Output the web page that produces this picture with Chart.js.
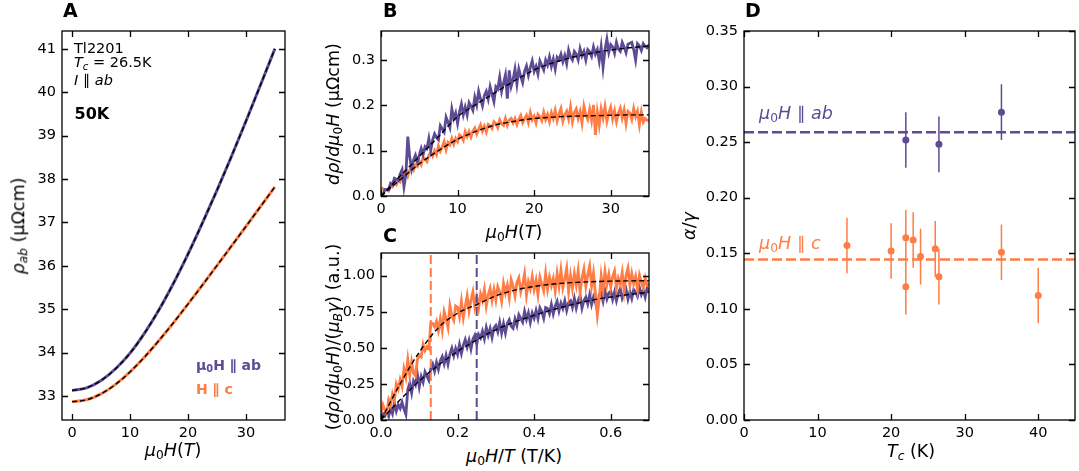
<!DOCTYPE html>
<html>
<head>
<meta charset="utf-8">
<script src="https://cdn.jsdelivr.net/npm/chart.js@4.4.0/dist/chart.umd.min.js"></script>
<style>
  body { margin: 0; width: 1079px; height: 471px; background: #fff; position: relative; overflow: hidden;
         font-family: 'DejaVu Sans', sans-serif; color: #000; }
  canvas { position: absolute; }
  .t { position: absolute; white-space: nowrap; line-height: 1; }
  .c { transform: translate(-50%, -50%); }
  .r { transform: translate(-50%, -50%) rotate(-90deg); }
  .lbl { font-size: 17.5px; }
  .pl { font-size: 19px; font-weight: bold; }
  sub { font-size: 70%; vertical-align: -0.25em; line-height: 0; }
  .pu { color: #5e4b95; }
  .or { color: #ff7d45; }
</style>
</head>
<body>
<canvas id="pA" width="281" height="433" style="left:12px;top:11px"></canvas>
<canvas id="pB" width="326" height="209" style="left:331px;top:11px"></canvas>
<canvas id="pC" width="326" height="211" style="left:331px;top:233px"></canvas>
<canvas id="pD" width="385" height="433" style="left:694px;top:11px"></canvas>

<!-- panel letters -->
<div class="t pl" style="left:63px;top:1px">A</div>
<div class="t pl" style="left:383px;top:1px">B</div>
<div class="t pl" style="left:383px;top:226px">C</div>
<div class="t pl" style="left:745px;top:1px">D</div>

<!-- panel A text -->
<div class="t" style="left:74px;top:40.5px;font-size:14.5px">Tl2201</div>
<div class="t" style="left:74px;top:55px;font-size:14.5px"><i>T</i><sub><i>c</i></sub> = 26.5K</div>
<div class="t" style="left:74px;top:73px;font-size:14.5px"><i>I</i> ∥ <i>ab</i></div>
<div class="t" style="left:74.5px;top:105.5px;font-size:16px;font-weight:bold">50K</div>
<div class="t pu" style="left:196px;top:357.5px;font-size:14px;font-weight:bold">μ<sub>0</sub>H ∥ ab</div>
<div class="t or" style="left:196px;top:381.5px;font-size:14px;font-weight:bold">H ∥ c</div>

<!-- panel D text -->
<div class="t pu" style="left:759px;top:105px;font-size:17.5px"><i>μ</i><sub>0</sub><i>H</i> ∥ <i>ab</i></div>
<div class="t or" style="left:759px;top:235px;font-size:17.5px"><i>μ</i><sub>0</sub><i>H</i> ∥ <i>c</i></div>

<!-- axis titles -->
<div class="t lbl c" style="left:173px;top:451px"><i>μ</i><sub>0</sub><i>H</i>(<i>T</i>)</div>
<div class="t lbl r" style="left:19px;top:226px"><i>ρ</i><sub><i>ab</i></sub> (μΩcm)</div>
<div class="t lbl c" style="left:514px;top:233px"><i>μ</i><sub>0</sub><i>H</i>(<i>T</i>)</div>
<div class="t lbl r" style="left:334px;top:114px"><i>dρ</i>/<i>dμ</i><sub>0</sub><i>H</i> (μΩcm)</div>
<div class="t lbl c" style="left:514px;top:457px"><i>μ</i><sub>0</sub><i>H</i>/<i>T</i> (T/K)</div>
<div class="t lbl r" style="left:334px;top:337px">(<i>dρ</i>/<i>dμ</i><sub>0</sub><i>H</i>)/(<i>μ</i><sub><i>B</i></sub><i>γ</i>) (a.u.)</div>
<div class="t lbl c" style="left:911px;top:452px"><i>T</i><sub><i>c</i></sub> (K)</div>
<div class="t lbl r" style="left:690px;top:226px"><i>α</i>/<i>γ</i></div>

<script>
/* ---------------- data ---------------- */
const PURPLE = '#5e4b95';
const ORANGE = '#ff7d45';

// A: rho_ab vs field, every 2.5 T
const H_A      = [0, 2.5, 5, 7.5, 10, 12.5, 15, 17.5, 20, 22.5, 25, 27.5, 30, 32.5, 35];
const RHO_AB   = [33.13, 33.19, 33.36, 33.63, 33.99, 34.45, 34.99, 35.60, 36.27, 36.99, 37.74, 38.52, 39.33, 40.16, 41.0];
const RHO_C    = [32.87, 32.916, 33.053, 33.271, 33.558, 33.9, 34.283, 34.691, 35.12, 35.559, 36.006, 36.455, 36.907, 37.362, 37.82];

// B: d rho / d mu0H, one reading every 0.25 T from 0 to 35 T
const H_STEP = 0.25;
const DRHO_AB = [
  0.003, 0.002, 0.014, 0.014, 0.014, 0.028, 0.025, 0.039, 0.037, 0.034,
  0.048, 0.058, 0.020, 0.047, 0.131, 0.086, 0.060, 0.079, 0.090, 0.075,
  0.090, 0.105, 0.091, 0.109, 0.105, 0.127, 0.101, 0.124, 0.137, 0.129,
  0.124, 0.155, 0.148, 0.141, 0.174, 0.163, 0.151, 0.192, 0.171, 0.183,
  0.160, 0.186, 0.203, 0.179, 0.196, 0.179, 0.206, 0.198, 0.189, 0.218,
  0.201, 0.231, 0.214, 0.199, 0.222, 0.231, 0.214, 0.241, 0.224, 0.208,
  0.241, 0.236, 0.262, 0.231, 0.249, 0.267, 0.215, 0.277, 0.242, 0.257,
  0.280, 0.247, 0.280, 0.264, 0.250, 0.275, 0.287, 0.266, 0.283, 0.298,
  0.275, 0.286, 0.269, 0.298, 0.288, 0.278, 0.300, 0.289, 0.307, 0.286,
  0.302, 0.280, 0.306, 0.301, 0.313, 0.296, 0.310, 0.292, 0.322, 0.307,
  0.300, 0.319, 0.313, 0.300, 0.325, 0.309, 0.319, 0.300, 0.323, 0.318,
  0.308, 0.329, 0.313, 0.323, 0.298, 0.329, 0.284, 0.322, 0.346, 0.317,
  0.334, 0.329, 0.315, 0.339, 0.324, 0.319, 0.339, 0.329, 0.316, 0.335,
  0.337, 0.339, 0.323, 0.300, 0.336, 0.331, 0.321, 0.336, 0.330, 0.327,
  0.334
];
const DRHO_C = [
  0.018, 0.016, 0.013, 0.013, 0.011, 0.022, 0.020, 0.030, 0.025, 0.035,
  0.031, 0.046, 0.041, 0.055, 0.044, 0.057, 0.064, 0.057, 0.069, 0.065,
  0.077, 0.069, 0.085, 0.082, 0.076, 0.090, 0.097, 0.088, 0.100, 0.091,
  0.110, 0.099, 0.108, 0.120, 0.102, 0.118, 0.113, 0.127, 0.114, 0.127,
  0.120, 0.135, 0.131, 0.123, 0.142, 0.131, 0.142, 0.130, 0.143, 0.150,
  0.137, 0.147, 0.157, 0.143, 0.154, 0.141, 0.158, 0.155, 0.149, 0.164,
  0.160, 0.151, 0.168, 0.160, 0.156, 0.171, 0.156, 0.168, 0.171, 0.161,
  0.171, 0.158, 0.170, 0.178, 0.162, 0.170, 0.178, 0.162, 0.184, 0.168,
  0.176, 0.161, 0.180, 0.175, 0.166, 0.185, 0.169, 0.180, 0.164, 0.184,
  0.171, 0.189, 0.166, 0.181, 0.193, 0.165, 0.179, 0.187, 0.170, 0.196,
  0.164, 0.184, 0.192, 0.171, 0.186, 0.161, 0.198, 0.179, 0.169, 0.191,
  0.167, 0.201, 0.135, 0.185, 0.157, 0.192, 0.172, 0.197, 0.165, 0.183,
  0.196, 0.170, 0.188, 0.164, 0.183, 0.194, 0.172, 0.190, 0.160, 0.187,
  0.183, 0.169, 0.193, 0.175, 0.187, 0.157, 0.185, 0.163, 0.171, 0.167,
  0.166
];
const H_FIT      = [0, 2.5, 5, 7.5, 10, 12.5, 15, 17.5, 20, 22.5, 25, 27.5, 30, 32.5, 35];
const FIT_B_AB   = [0, 0.044, 0.087, 0.131, 0.175, 0.203, 0.229, 0.255, 0.278, 0.294, 0.306, 0.315, 0.322, 0.327, 0.331];
const FIT_B_C    = [0, 0.036, 0.071, 0.1, 0.125, 0.143, 0.157, 0.165, 0.171, 0.174, 0.176, 0.177, 0.178, 0.179, 0.179];

// C: normalised, one reading every 0.005 T/K from 0 to 0.7
const X_STEP = 0.005;
const NORM_C = [
  0.05, 0.105, 0.07, 0.045, 0.14, 0.105, 0.18, 0.135, 0.25, 0.215,
  0.28, 0.232, 0.354, 0.296, 0.418, 0.31, 0.402, 0.324, 0.306, 0.418,
  0.45, 0.437, 0.524, 0.481, 0.508, 0.495, 0.672, 0.669, 0.646, 0.683,
  0.62, 0.70, 0.62, 0.75, 0.70, 0.64, 0.79, 0.72, 0.69, 0.79,
  0.78, 0.716, 0.822, 0.708, 0.784, 0.86, 0.756, 0.832, 0.888, 0.784,
  0.85, 0.776, 0.872, 0.828, 0.904, 0.79, 0.866, 0.912, 0.828, 0.904,
  0.83, 0.924, 0.888, 0.822, 0.946, 0.88, 0.934, 0.848, 0.972, 0.926,
  0.86, 0.953, 0.985, 0.888, 0.94, 1.013, 0.865, 0.958, 0.91, 0.993,
  0.905, 0.967, 0.869, 0.99, 0.942, 0.894, 1.015, 0.907, 0.989, 0.93,
  0.982, 0.893, 1.015, 0.926, 1.037, 0.917, 0.979, 1.05, 0.891, 1.0,
  0.912, 1.013, 0.933, 1.034, 0.884, 0.985, 1.046, 0.925, 1.006, 1.067,
  0.928, 1.018, 0.878, 0.728, 0.838, 0.998, 0.898, 1.028, 0.938, 1.008,
  0.922, 0.992, 1.032, 0.912, 0.982, 0.942, 1.022, 0.892, 1.002, 1.052,
  0.934, 1.014, 0.944, 0.994, 0.904, 1.004, 0.954, 0.914, 0.984, 0.934,
  0.94
];
const NORM_AB = [
  0.01, 0.044, 0.028, 0.062, 0.026, 0.08, 0.044, 0.118, 0.062, 0.106,
  0.08, 0.123, 0.076, 0.039, 0.212, 0.255, 0.188, 0.271, 0.244, 0.317,
  0.23, 0.301, 0.262, 0.333, 0.304, 0.275, 0.356, 0.387, 0.338, 0.399,
  0.35, 0.41, 0.439, 0.389, 0.448, 0.388, 0.457, 0.497, 0.446, 0.496,
  0.455, 0.523, 0.461, 0.519, 0.557, 0.505, 0.553, 0.491, 0.559, 0.587,
  0.525, 0.592, 0.569, 0.616, 0.563, 0.64, 0.587, 0.634, 0.571, 0.638,
  0.655, 0.611, 0.676, 0.602, 0.667, 0.603, 0.668, 0.694, 0.649, 0.635,
  0.70, 0.655, 0.729, 0.704, 0.678, 0.753, 0.697, 0.742, 0.676, 0.741,
  0.705, 0.759, 0.703, 0.777, 0.751, 0.705, 0.779, 0.773, 0.737, 0.801,
  0.735, 0.789, 0.822, 0.756, 0.809, 0.773, 0.826, 0.76, 0.813, 0.827,
  0.78, 0.843, 0.776, 0.829, 0.862, 0.775, 0.828, 0.851, 0.804, 0.867,
  0.80, 0.852, 0.814, 0.767, 0.869, 0.881, 0.823, 0.895, 0.838, 0.88,
  0.892, 0.834, 0.886, 0.827, 0.879, 0.911, 0.843, 0.875, 0.906, 0.838,
  0.89, 0.842, 0.903, 0.885, 0.856, 0.918, 0.869, 0.901, 0.852, 0.914,
  0.885
];
const X_FIT     = [0, 0.05, 0.1, 0.15, 0.2, 0.25, 0.3, 0.35, 0.4, 0.45, 0.5, 0.55, 0.6, 0.65, 0.7];
const FIT_C_C   = [0, 0.25, 0.47, 0.64, 0.74, 0.8, 0.86, 0.9, 0.925, 0.942, 0.952, 0.958, 0.962, 0.964, 0.965];
const FIT_C_AB  = [0, 0.14, 0.27, 0.38, 0.475, 0.555, 0.625, 0.68, 0.725, 0.765, 0.8, 0.83, 0.852, 0.87, 0.885];
const MARK_C  = 0.13;
const MARK_AB = 0.25;

// D: alpha/gamma vs Tc
const TC_AB    = [22, 26.5, 35];
const RATIO_AB = [0.252, 0.248, 0.277];
const ERR_AB   = [0.025, 0.025, 0.025];
const TC_C     = [14, 20, 22, 22, 23, 24, 26, 26.5, 35, 40];
const RATIO_C  = [0.157, 0.152, 0.164, 0.120, 0.162, 0.147, 0.154, 0.129, 0.151, 0.112];
const ERR_C    = [0.025, 0.025, 0.025, 0.025, 0.025, 0.025, 0.025, 0.025, 0.025, 0.025];
const MEAN_AB  = 0.259;
const MEAN_C   = 0.1445;

/* ---------------- helpers ---------------- */
Chart.defaults.font.family = "'DejaVu Sans', sans-serif";
Chart.defaults.color = '#000';

const Y_AXIS_W = 50, X_AXIS_H = 24, PAD_T = 20;

const pts = (xs, ys) => ys.map((y, i) => ({ x: xs[i], y }));
const grid = (n, step) => Array.from({ length: n }, (_, i) => +(i * step).toFixed(4));

function errBars(xs, ys, es) {
  const out = [];
  xs.forEach((x, i) => { out.push({ x, y: ys[i] - es[i] }, { x, y: ys[i] + es[i] }, { x, y: null }); });
  return out;
}

// box frame + inward ticks on all four sides
const frame = {
  id: 'frame',
  afterDraw(chart) {
    const { ctx, chartArea: a, scales: { x, y } } = chart;
    const L = 6;
    ctx.save();
    ctx.strokeStyle = '#000';
    ctx.lineWidth = 1.3;
    ctx.beginPath();
    x.ticks.forEach(t => {
      const p = Math.round(x.getPixelForValue(t.value)) + 0.5;
      ctx.moveTo(p, a.bottom); ctx.lineTo(p, a.bottom - L);
      ctx.moveTo(p, a.top);    ctx.lineTo(p, a.top + L);
    });
    y.ticks.forEach(t => {
      const p = Math.round(y.getPixelForValue(t.value)) + 0.5;
      ctx.moveTo(a.left, p);  ctx.lineTo(a.left + L, p);
      ctx.moveTo(a.right, p); ctx.lineTo(a.right - L, p);
    });
    ctx.stroke();
    ctx.strokeRect(a.left, a.top, a.right - a.left, a.bottom - a.top);
    ctx.restore();
  }
};

function options(o) {
  const axis = (r, fmt, fit, pad) => ({
    type: 'linear', min: r[0], max: r[1], afterFit: fit,
    grid: { display: false, drawTicks: false }, border: { display: false },
    ticks: { stepSize: r[2], includeBounds: false, padding: pad, maxRotation: 0, autoSkip: false,
             font: { size: 14.5 }, callback: v => fmt(v) }
  });
  return {
    responsive: false, animation: false, events: [],
    layout: { padding: { top: PAD_T, right: o.padR, left: 0, bottom: 0 } },
    plugins: { legend: { display: false }, tooltip: { enabled: false } },
    elements: { point: { radius: 0 } },
    scales: {
      x: axis(o.x, o.xf, s => { s.height = X_AXIS_H; }, 5),
      y: axis(o.y, o.yf, s => { s.width = Y_AXIS_W; }, 6)
    }
  };
}

const dataLine = (d, color, order, w = 2.8) => ({ data: d, borderColor: color, borderWidth: w, pointRadius: 0, order });
const fitLine  = d => ({ data: d, borderColor: '#000', borderWidth: 1.4, borderDash: [5, 3],
                         pointRadius: 0, cubicInterpolationMode: 'monotone', order: 0 });
const vLine    = (x, top, color) => ({ data: [{ x, y: 0 }, { x, y: top }], borderColor: color, borderWidth: 2,
                                       borderDash: [9, 4], pointRadius: 0, order: 1 });
const hLine    = (y, color) => ({ data: [{ x: 0, y }, { x: 45, y }], borderColor: color, borderWidth: 2.5,
                                   borderDash: [10, 4], pointRadius: 0, order: 3 });

const int  = v => String(Math.round(v));
const dec1 = v => v.toFixed(1);
const dec2 = v => v.toFixed(2);

/* ---------------- A ---------------- */
new Chart(document.getElementById('pA'), {
  type: 'line',
  data: { datasets: [
    dataLine(pts(H_A, RHO_AB), PURPLE, 2, 3),
    dataLine(pts(H_A, RHO_C), ORANGE, 2, 3),
    fitLine(pts(H_A, RHO_AB)),
    fitLine(pts(H_A, RHO_C))
  ].map(d => ({ ...d, cubicInterpolationMode: 'monotone' })) },
  options: options({ x: [-1.75, 36.75, 10], y: [32.45, 41.41, 1], xf: int, yf: int, padR: 8 }),
  plugins: [frame]
});

/* ---------------- B ---------------- */
const H_B = grid(DRHO_AB.length, H_STEP);
new Chart(document.getElementById('pB'), {
  type: 'line',
  data: { datasets: [
    dataLine(pts(H_B, DRHO_AB), PURPLE, 2),
    dataLine(pts(H_B, DRHO_C), ORANGE, 3),
    fitLine(pts(H_FIT, FIT_B_AB)),
    fitLine(pts(H_FIT, FIT_B_C))
  ] },
  options: options({ x: [0, 35, 10], y: [0, 0.364, 0.1], xf: int, yf: dec1, padR: 8 }),
  plugins: [frame]
});

/* ---------------- C ---------------- */
const X_C = grid(NORM_C.length, X_STEP);
const C_TOP = 1.157;
new Chart(document.getElementById('pC'), {
  type: 'line',
  data: { datasets: [
    dataLine(pts(X_C, NORM_AB), PURPLE, 3),
    dataLine(pts(X_C, NORM_C), ORANGE, 2),
    vLine(MARK_C, C_TOP, ORANGE),
    vLine(MARK_AB, C_TOP, PURPLE),
    fitLine(pts(X_FIT, FIT_C_AB)),
    fitLine(pts(X_FIT, FIT_C_C))
  ] },
  options: options({ x: [0, 0.7, 0.2], y: [0, C_TOP, 0.25], xf: dec1, yf: dec2, padR: 8 }),
  plugins: [frame]
});

/* ---------------- D ---------------- */
new Chart(document.getElementById('pD'), {
  type: 'line',
  data: { datasets: [
    hLine(MEAN_AB, PURPLE),
    hLine(MEAN_C, ORANGE),
    { data: errBars(TC_AB, RATIO_AB, ERR_AB), borderColor: PURPLE, borderWidth: 1.5, pointRadius: 0, spanGaps: false, order: 2 },
    { data: errBars(TC_C, RATIO_C, ERR_C), borderColor: ORANGE, borderWidth: 1.5, pointRadius: 0, spanGaps: false, order: 2 },
    { data: pts(TC_AB, RATIO_AB), showLine: false, pointRadius: 3.5, pointBackgroundColor: PURPLE, pointBorderWidth: 0, order: 1 },
    { data: pts(TC_C, RATIO_C), showLine: false, pointRadius: 3.5, pointBackgroundColor: ORANGE, pointBorderWidth: 0, order: 1 }
  ] },
  options: options({ x: [0, 45, 10], y: [0, 0.35, 0.05], xf: int, yf: dec2, padR: 1 }),
  plugins: [frame]
});
</script>
</body>
</html>
